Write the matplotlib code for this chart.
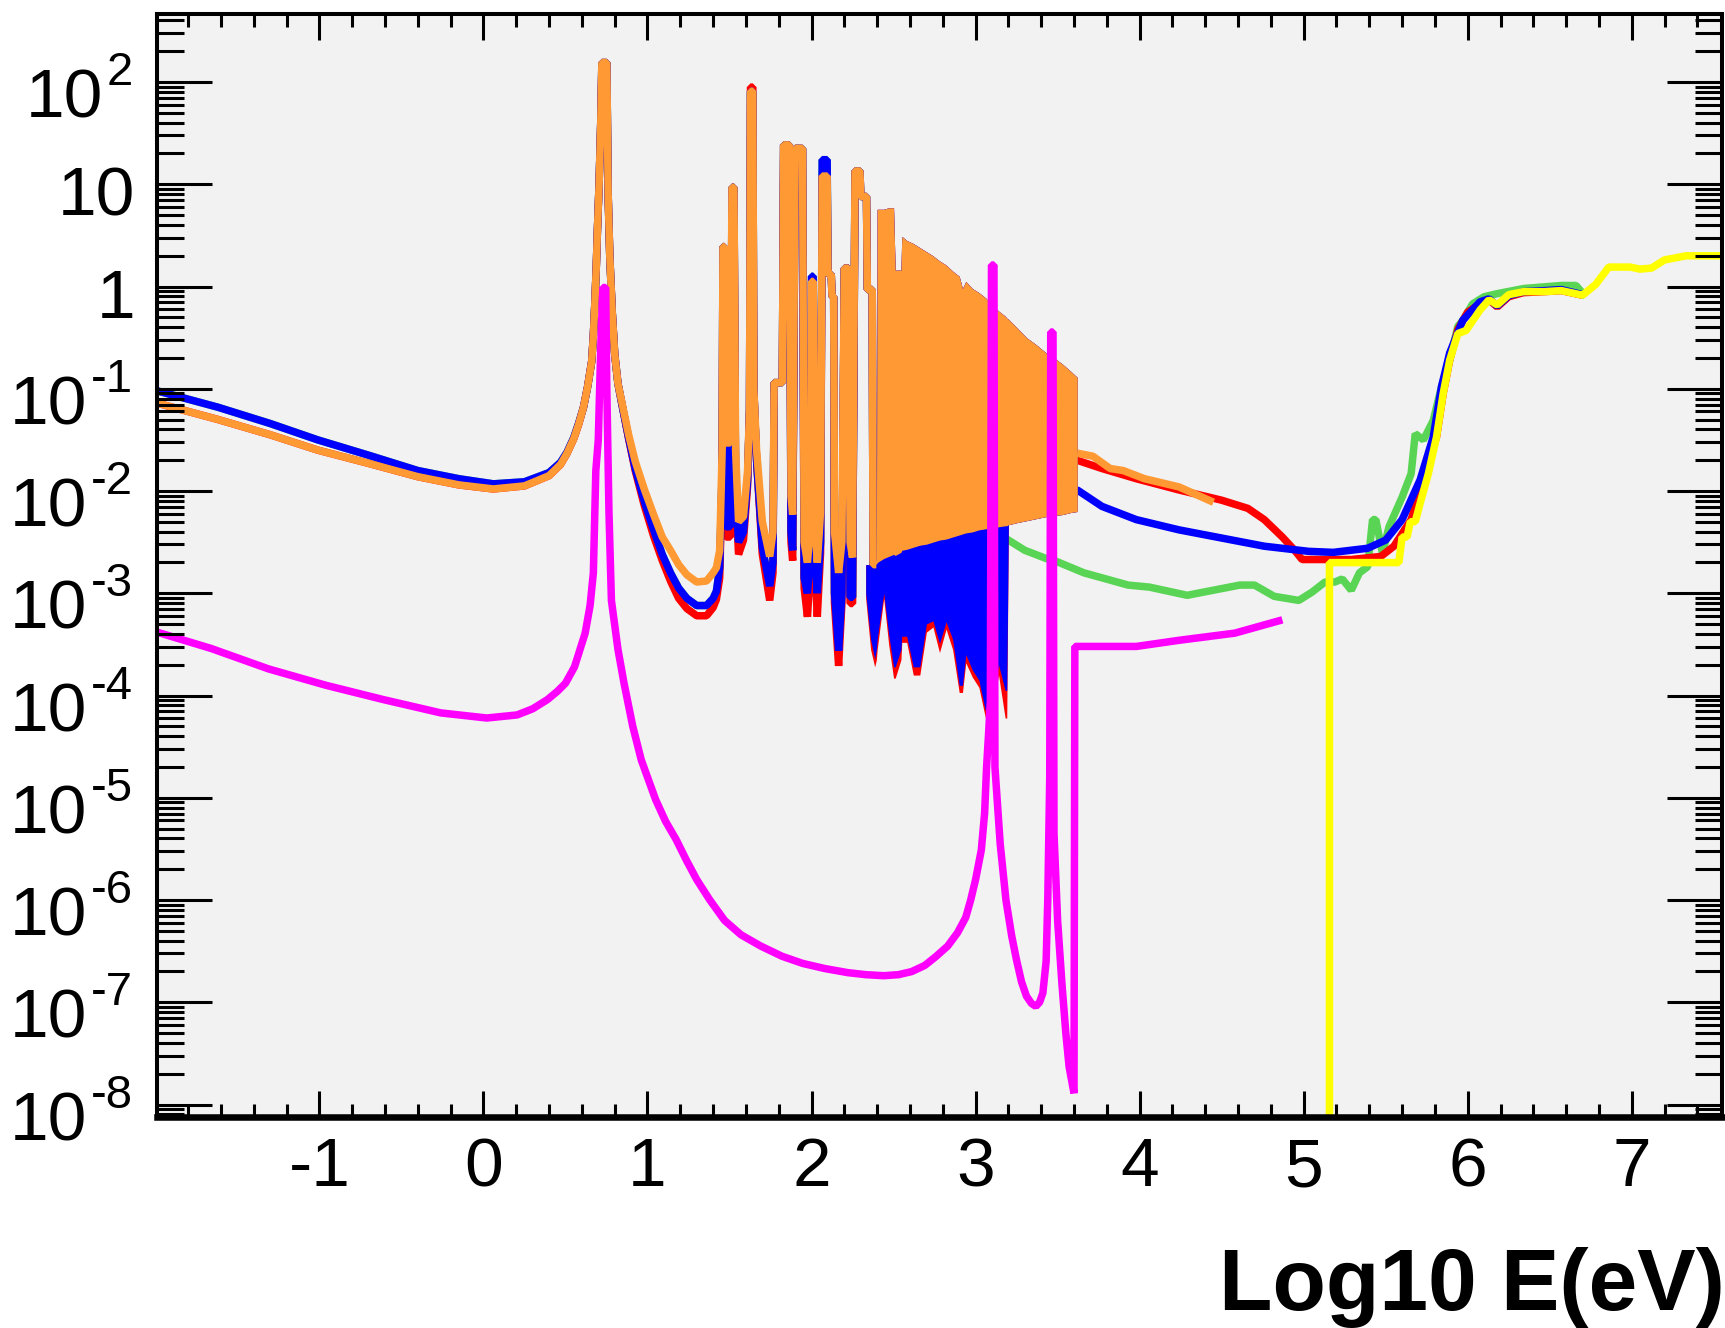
import numpy as np
import matplotlib
matplotlib.use('Agg')
import matplotlib.pyplot as plt
from matplotlib.ticker import FixedLocator, MultipleLocator, LogLocator, NullFormatter

plt.rcParams['font.family'] = ['Liberation Sans', 'DejaVu Sans']

GREEN = '#59d454'
RED = '#ff0000'
BLUE = '#0000ff'
ORANGE = '#ff9933'
MAGENTA = '#ff00ff'
YELLOW = '#ffff00'

# all y values below are log10 of the plotted quantity
# thermal + resolved resonance region (shared x grid), orange / blue / red
lo_x = [-1.99, -1.62, -1.30, -1.01, -0.70, -0.40, -0.15, 0.06, 0.25, 0.40,
        0.47, 0.51, 0.55, 0.58, 0.61, 0.635, 0.66, 0.67, 0.68, 0.688,
        0.695, 0.705, 0.715, 0.722, 0.752, 0.76, 0.77, 0.785, 0.80, 0.82,
        0.85, 0.885, 0.925, 0.98, 1.037, 1.09, 1.14, 1.19, 1.24, 1.30,
        1.36, 1.40, 1.42, 1.44,
        1.455, 1.46, 1.468, 1.478, 1.505, 1.515, 1.527, 1.537, 1.555, 1.585,
        1.61, 1.622, 1.628, 1.642, 1.648, 1.665, 1.70, 1.745, 1.765, 1.772,
        1.822, 1.83, 1.865, 1.875, 1.885, 1.90, 1.945, 1.955, 1.975, 1.995,
        2.00, 2.01, 2.02, 2.035, 2.055, 2.065, 2.095, 2.10, 2.12, 2.125,
        2.135, 2.14, 2.165, 2.185, 2.20, 2.225, 2.235, 2.25, 2.265, 2.295,
        2.30, 2.335, 2.34, 2.37, 2.375, 2.395]
lo_orange = [-1.14, -1.30, -1.45, -1.60, -1.73, -1.86, -1.94, -1.98, -1.95, -1.85,
             -1.74, -1.63, -1.49, -1.35, -1.18, -0.98, -0.73, -0.48, -0.13, 0.20,
             0.56, 1.00, 1.60, 2.19, 2.19, 0.91, 0.30, -0.25, -0.66, -0.95,
             -1.18, -1.45, -1.71, -1.98, -2.23, -2.45, -2.58, -2.72, -2.82, -2.89,
             -2.88, -2.80, -2.75, -2.58,
             -1.60, 0.39, 0.39, -1.53, -1.53, 0.97, 0.97, -1.60, -2.30, -2.25,
             -1.80, -1.20, 1.91, 1.91, -1.00, -1.60, -2.30, -2.64, -2.40, -0.94,
             -0.94, 1.385, 1.385, -2.05, -2.23, 1.35, 1.35, -2.50, -2.70, -2.30,
             0.05, 0.05, -2.30, -2.70, -2.20, 1.08, 1.08, 0.12, 0.12, -0.10,
             -0.10, -2.40, -2.80, -2.50, 0.18, 0.18, -2.50, -2.65, 1.13, 1.13,
             0.88, 0.88, -0.03, -0.03, -2.72, -2.72]
lo_blue = [-1.02, -1.18, -1.34, -1.50, -1.65, -1.80, -1.88, -1.93, -1.91, -1.82,
           -1.72, -1.62, -1.48, -1.34, -1.18, -0.98, -0.73, -0.48, -0.13, 0.20,
           0.56, 1.00, 1.60, 2.19, 2.19, 0.91, 0.30, -0.25, -0.66, -0.95,
           -1.20, -1.48, -1.78, -2.10, -2.38, -2.62, -2.80, -2.95, -3.05, -3.12,
           -3.12, -3.05, -2.98, -2.75,
           -1.80, 0.39, 0.39, -2.35, -2.35, 0.97, 0.97, -2.00, -2.50, -2.40,
           -1.90, -1.20, 1.91, 1.91, -1.00, -1.70, -2.55, -2.93, -2.70, -0.94,
           -0.94, 1.385, 1.385, -2.40, -2.58, 1.35, 1.35, -2.85, -3.00, -2.60,
           0.10, 0.10, -2.60, -3.00, -2.50, 1.24, 1.24, 0.12, 0.12, -0.10,
           -0.10, -3.00, -3.56, -3.00, 0.18, 0.18, -3.04, -3.04, 1.13, 1.13,
           0.88, 0.88, -0.03, -0.03, -2.72, -2.72]
lo_red = [-1.14, -1.30, -1.45, -1.60, -1.73, -1.86, -1.94, -1.98, -1.95, -1.85,
          -1.74, -1.63, -1.49, -1.35, -1.18, -0.98, -0.73, -0.48, -0.13, 0.20,
          0.56, 1.00, 1.60, 2.19, 2.19, 0.91, 0.30, -0.25, -0.66, -0.95,
          -1.20, -1.49, -1.80, -2.14, -2.44, -2.68, -2.88, -3.05, -3.15, -3.22,
          -3.22, -3.14, -3.06, -2.85,
          -1.90, 0.39, 0.39, -2.45, -2.45, 0.97, 0.97, -2.00, -2.62, -2.48,
          -1.95, -1.20, 1.95, 1.95, -1.00, -1.70, -2.62, -3.07, -2.80, -0.94,
          -0.94, 1.385, 1.385, -2.50, -2.68, 1.35, 1.35, -2.95, -3.23, -2.70,
          0.05, 0.05, -2.70, -3.23, -2.60, 1.08, 1.08, 0.12, 0.12, -0.10,
          -0.10, -3.10, -3.71, -3.10, 0.18, 0.18, -3.10, -3.10, 1.13, 1.13,
          0.88, 0.88, -0.03, -0.03, -2.72, -2.72]

# unresolved resonance region, envelopes of the dense oscillations
dense_x = [2.33, 2.36, 2.385, 2.395, 2.40, 2.44, 2.47, 2.50, 2.51, 2.545,
           2.55, 2.58, 2.62, 2.66, 2.70, 2.74, 2.78, 2.82, 2.86, 2.90,
           2.92, 2.94, 2.98, 3.02, 3.06, 3.10, 3.14, 3.18, 3.19, 3.20,
           3.25, 3.31, 3.37, 3.43, 3.48, 3.53, 3.58, 3.62]
orange_top = [-2.72, -2.72, -2.72, -2.72, 0.755, 0.755, 0.77, 0.77, 0.16, 0.16,
              0.49, 0.45, 0.42, 0.38, 0.34, 0.30, 0.25, 0.21, 0.15, 0.10,
              -0.02, 0.05, -0.02, -0.06, -0.11, -0.18, -0.24, -0.29, -0.31, -0.32,
              -0.40, -0.50, -0.57, -0.65, -0.70, -0.76, -0.83, -0.89]
orange_low = [-2.72, -2.72, -2.72, -2.72, -2.70, -2.66, -2.64, -2.62, -2.63, -2.60,
              -2.58, -2.57, -2.55, -2.53, -2.52, -2.50, -2.48, -2.47, -2.45, -2.43,
              -2.42, -2.41, -2.40, -2.38, -2.37, -2.36, -2.35, -2.34, -2.34, -2.33,
              -2.31, -2.29, -2.27, -2.25, -2.24, -2.23, -2.21, -2.20]
blue_low = [-3.00, -3.45, -3.64, -3.55, -3.45, -3.00, -3.40, -3.72, -3.72, -3.55,
            -3.42, -3.42, -3.72, -3.72, -3.30, -3.27, -3.49, -3.28, -3.45, -3.90,
            -3.90, -3.60, -3.75, -3.85, -4.15, -4.05, -3.70, -3.95, -3.95, -2.33,
            -2.31, -2.29, -2.27, -2.25, -2.24, -2.23, -2.21, -2.20]
red_low = [-3.05, -3.55, -3.72, -3.65, -3.55, -3.05, -3.50, -3.83, -3.83, -3.65,
           -3.48, -3.48, -3.80, -3.80, -3.38, -3.33, -3.58, -3.35, -3.55, -3.97,
           -3.97, -3.68, -3.82, -3.92, -4.22, -4.12, -3.80, -4.22, -4.22, -2.33,
           -2.31, -2.29, -2.27, -2.25, -2.24, -2.23, -2.21, -2.20]

# high energy part of each curve
gr_x = [3.19, 3.30, 3.43, 3.48, 3.66, 3.93, 4.06, 4.29, 4.45, 4.61,
        4.70, 4.82, 4.97, 5.05, 5.13, 5.19, 5.235, 5.29, 5.34, 5.39,
        5.42, 5.44, 5.48, 5.52, 5.60, 5.655, 5.68, 5.73, 5.79, 5.84,
        5.89, 5.94, 5.97, 6.03, 6.10, 6.18, 6.34, 6.57, 6.66, 6.72]
gr_y = [-2.47, -2.58, -2.66, -2.68, -2.80, -2.92, -2.94, -3.02, -2.97, -2.92,
        -2.92, -3.03, -3.07, -2.99, -2.89, -2.89, -2.86, -2.97, -2.80, -2.74,
        -2.28, -2.28, -2.61, -2.35, -2.06, -1.83, -1.44, -1.50, -1.31, -0.98,
        -0.72, -0.39, -0.33, -0.17, -0.10, -0.07, -0.02, 0.01, 0.01, -0.10]
rd_x = [3.21, 3.62, 3.77, 3.98, 4.24, 4.50, 4.66, 4.76, 4.87, 4.945,
        4.99, 5.29, 5.47, 5.55, 5.655, 5.73, 5.81, 5.85, 5.89, 5.94,
        6.00, 6.075, 6.13, 6.18, 6.25, 6.34, 6.47, 6.57, 6.70]
rd_y = [-2.00, -1.70, -1.78, -1.88, -1.99, -2.09, -2.17, -2.28, -2.45, -2.58,
        -2.67, -2.67, -2.64, -2.54, -2.28, -1.89, -1.47, -1.05, -0.72, -0.42,
        -0.25, -0.17, -0.13, -0.20, -0.10, -0.06, -0.05, -0.04, -0.085]
bl_x = [3.21, 3.62, 3.77, 3.98, 4.24, 4.50, 4.76, 5.03, 5.18, 5.39,
        5.50, 5.60, 5.71, 5.79, 5.84, 5.89, 5.97, 6.075, 6.13, 6.18,
        6.25, 6.34, 6.47, 6.57, 6.70]
bl_y = [-2.25, -1.99, -2.15, -2.28, -2.38, -2.46, -2.54, -2.59, -2.60, -2.56,
        -2.48, -2.28, -1.89, -1.47, -0.98, -0.65, -0.33, -0.15, -0.12, -0.19,
        -0.09, -0.05, -0.04, -0.03, -0.08]
or_x = [3.62, 3.715, 3.82, 3.90, 4.03, 4.24, 4.45]
or_y = [-1.63, -1.66, -1.78, -1.80, -1.88, -1.96, -2.11]

mag_x = [-1.99, -1.66, -1.31, -0.96, -0.61, -0.26, 0.02, 0.205, 0.30, 0.39,
         0.45, 0.50, 0.555, 0.62, 0.65, 0.67, 0.685, 0.70, 0.715, 0.728,
         0.745, 0.752, 0.765, 0.78, 0.82, 0.857, 0.91, 0.962, 1.05, 1.11,
         1.175, 1.24, 1.30, 1.38, 1.47, 1.57, 1.69, 1.82, 1.946, 2.08,
         2.22, 2.33, 2.44, 2.53, 2.61, 2.69, 2.76, 2.83, 2.89, 2.94,
         2.97, 3.00, 3.035, 3.055, 3.067, 3.08, 3.09, 3.097, 3.112, 3.118,
         3.15, 3.185, 3.22, 3.25, 3.28, 3.31, 3.34, 3.367, 3.39, 3.41,
         3.43, 3.44, 3.452, 3.458, 3.472, 3.478, 3.50, 3.526, 3.55, 3.57,
         3.60, 3.605, 3.98, 4.24, 4.58, 4.87]
mag_y = [-3.38, -3.54, -3.74, -3.90, -4.04, -4.17, -4.22, -4.19, -4.13, -4.04,
         -3.96, -3.88, -3.72, -3.39, -3.12, -2.80, -1.80, -1.50, -0.60, -0.01,
         -0.01, -1.00, -2.20, -3.07, -3.55, -3.88, -4.30, -4.63, -5.02, -5.23,
         -5.41, -5.62, -5.80, -6.00, -6.20, -6.34, -6.45, -6.55, -6.62, -6.67,
         -6.71, -6.73, -6.74, -6.73, -6.70, -6.64, -6.55, -6.45, -6.32, -6.17,
         -6.00, -5.80, -5.51, -5.15, -4.70, -4.35, -4.05, 0.21, 0.21, -4.70,
         -5.45, -6.00, -6.35, -6.59, -6.80, -6.94, -7.01, -7.04, -7.00, -6.91,
         -6.60, -6.00, -4.80, -0.445, -0.445, -5.35, -6.20, -6.81, -7.30, -7.63,
         -7.89, -3.52, -3.52, -3.46, -3.39, -3.26]

ye_x = [5.157, 5.157, 5.58, 5.60, 5.63, 5.65, 5.68, 5.71, 5.76, 5.81,
        5.85, 5.89, 5.94, 5.99, 6.075, 6.13, 6.18, 6.25, 6.34, 6.47,
        6.57, 6.70, 6.78, 6.86, 6.99, 7.05, 7.12, 7.20, 7.33, 7.55]
ye_y = [-9.0, -2.70, -2.70, -2.45, -2.45, -2.30, -2.30, -2.12, -1.83, -1.47,
        -1.05, -0.72, -0.46, -0.43, -0.23, -0.13, -0.18, -0.08, -0.05, -0.05,
        -0.04, -0.085, 0.02, 0.19, 0.19, 0.17, 0.18, 0.26, 0.30, 0.30]

x_ticks = [-1, 0, 1, 2, 3, 4, 5, 6, 7]
x_ticklabels = ['-1', '0', '1', '2', '3', '4', '5', '6', '7']
y_decades = list(range(-8, 3))


def p(v):
    return 10.0 ** np.asarray(v)


fig = plt.figure(figsize=(17.25, 13.28), dpi=100)
ax = fig.add_axes([157 / 1725, 211 / 1328, 1565 / 1725, 1103 / 1328])
ax.set_facecolor('#f2f2f2')

kw = dict(lw=5.4, solid_joinstyle='bevel', solid_capstyle='butt')

# green
ax.plot(lo_x, p(lo_blue), color=GREEN, zorder=2, **kw)
ax.plot(gr_x, p(gr_y), color=GREEN, zorder=2, **kw)
# red
ax.plot(lo_x, p(lo_red), color=RED, zorder=3, **kw)
ax.fill_between(dense_x, p(red_low), p(orange_top), color=RED, lw=0, zorder=3)
ax.plot(rd_x, p(rd_y), color=RED, zorder=3, **kw)
# blue
ax.plot(lo_x, p(lo_blue), color=BLUE, zorder=4, **kw)
ax.fill_between(dense_x, p(blue_low), p(orange_top), color=BLUE, lw=0, zorder=4)
ax.plot(bl_x, p(bl_y), color=BLUE, zorder=4, **kw)
# orange
ax.plot(lo_x, p(lo_orange), color=ORANGE, zorder=5, **kw)
ax.fill_between(dense_x, p(orange_low), p(orange_top), color=ORANGE, lw=0, zorder=5)
ax.plot(or_x, p(or_y), color=ORANGE, zorder=5, **kw)
# magenta, yellow
ax.plot(mag_x, p(mag_y), color=MAGENTA, zorder=6, **kw)
ax.plot(ye_x, p(ye_y), color=YELLOW, zorder=7, **kw)

ax.set_yscale('log')
ax.set_xlim(-1.99, 7.55)
ax.set_ylim(10 ** -8.122, 10 ** 2.665)

ax.set_xticks(x_ticks, labels=x_ticklabels)
ax.xaxis.set_minor_locator(MultipleLocator(0.2))
ax.yaxis.set_major_locator(FixedLocator([10.0 ** k for k in y_decades]))
ax.yaxis.set_minor_locator(LogLocator(base=10, subs=np.arange(2, 10), numticks=60))
ax.yaxis.set_major_formatter(NullFormatter())
ax.yaxis.set_minor_formatter(NullFormatter())

ax.tick_params(axis='both', which='both', direction='in', top=True, right=True,
               color='black', width=2.2)
ax.tick_params(axis='x', which='major', length=18.7, labelsize=50, pad=14)
ax.tick_params(axis='x', which='minor', length=9.4)
ax.tick_params(axis='y', which='major', length=39.6)
ax.tick_params(axis='y', which='minor', length=19.4)

for s in ax.spines.values():
    s.set_linewidth(2.9)
    s.set_zorder(20)
ax.spines['bottom'].set_linewidth(4.7)
ax.xaxis.set_zorder(20)
ax.yaxis.set_zorder(20)

# y tick labels in ROOT style: 10 with a raised exponent
for k in y_decades:
    yv = 10.0 ** k
    if k in (0, 1):
        ax.annotate('1' if k == 0 else '10', xy=(0, yv),
                    xycoords=('axes fraction', 'data'), xytext=(-22, -31.5),
                    textcoords='offset pixels', ha='right', va='baseline',
                    fontsize=50, annotation_clip=False)
    else:
        sup = ax.annotate(str(k), xy=(0, yv), xycoords=('axes fraction', 'data'),
                          xytext=(-24, -3), textcoords='offset pixels',
                          ha='right', va='baseline', fontsize=34,
                          annotation_clip=False)
        ax.annotate('10', xy=(0, yv), xycoords=(sup, 'data'), xytext=(-4, -35.5),
                    textcoords='offset pixels', ha='right', va='baseline',
                    fontsize=50, annotation_clip=False)

fig.text(1.0, 18 / 1328, 'Log10 E(eV)', ha='right', va='baseline',
         fontsize=63, fontweight='bold')

fig.savefig('out.png', dpi=100)
